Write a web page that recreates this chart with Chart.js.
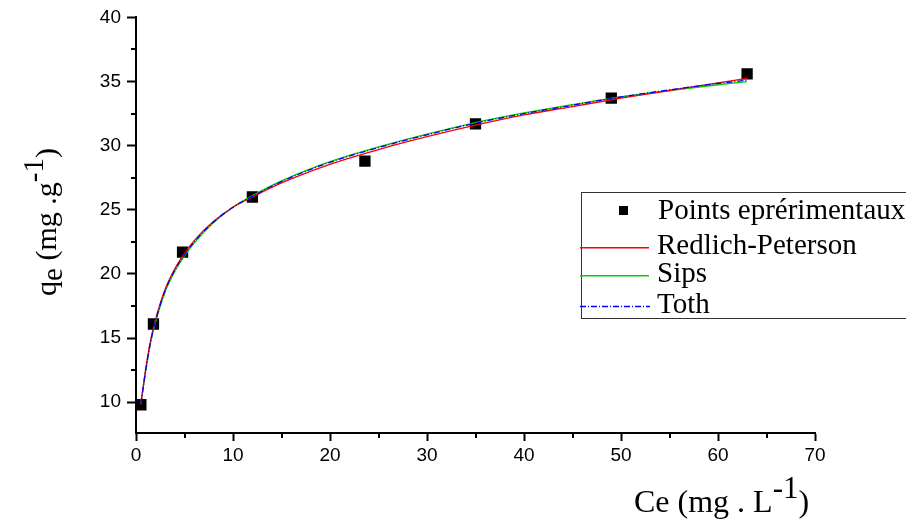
<!DOCTYPE html>
<html>
<head>
<meta charset="utf-8">
<script src="https://cdn.jsdelivr.net/npm/chart.js@4.4.0/dist/chart.umd.min.js"></script>
<style>
  body { margin: 0; background: #fff; }
  #wrap { width: 906px; height: 519px; }
</style>
</head>
<body>
<div id="wrap"><canvas id="myChart" width="906" height="519"></canvas></div>
<script>
// experimental points
var ceData = [0.5, 1.8, 4.8, 12.0, 23.6, 35.0, 49.0, 63.0];
var qeData = [9.8, 16.1, 21.7, 26.0, 28.8, 31.7, 33.7, 35.6];

// fitted curves
var fitCe = [0.5, 1, 1.5, 2, 3, 4, 5, 6, 8, 10, 12, 15, 20, 25, 30, 35, 40, 45, 50, 55, 60, 63];
var redlichPeterson = [9.8, 12.6, 14.8, 16.4, 18.8, 20.4, 21.6, 22.6, 24.1, 25.2, 26.0, 27.1, 28.55, 29.7, 30.7, 31.6, 32.4, 33.05, 33.7, 34.3, 34.9, 35.25];
var sips = [9.9, 12.4, 14.6, 16.2, 18.6, 20.2, 21.4, 22.4, 24.0, 25.2, 26.1, 27.25, 28.75, 29.9, 30.9, 31.8, 32.55, 33.2, 33.8, 34.3, 34.75, 35.0];
var toth = [9.9, 12.5, 14.7, 16.3, 18.7, 20.3, 21.5, 22.5, 24.05, 25.2, 26.05, 27.2, 28.7, 29.85, 30.85, 31.75, 32.5, 33.15, 33.8, 34.35, 34.85, 35.1];

var seriesNames = ['Points eprérimentaux', 'Redlich-Peterson', 'Sips', 'Toth'];
var xMinor = [5, 15, 25, 35, 45, 55, 65];
var yMinor = [12.5, 17.5, 22.5, 27.5, 32.5, 37.5];

function pairs(xs, ys) {
  return xs.map(function (x, i) { return { x: x, y: ys[i] }; });
}

var serif = '"Liberation Serif", "Times New Roman", serif';

// draws a run of text pieces, some of them raised or lowered
function drawParts(ctx, parts, x, y) {
  parts.forEach(function (p) {
    ctx.font = p.size + 'px ' + serif;
    ctx.fillText(p.t, x, y + (p.dy || 0));
    x += ctx.measureText(p.t).width;
  });
}
function partsWidth(ctx, parts) {
  var w = 0;
  parts.forEach(function (p) {
    ctx.font = p.size + 'px ' + serif;
    w += ctx.measureText(p.t).width;
  });
  return w;
}

var extras = {
  id: 'extras',
  afterDraw: function (chart) {
    var ctx = chart.ctx;
    var xs = chart.scales.x, ys = chart.scales.y;
    var area = chart.chartArea;
    ctx.save();
    ctx.strokeStyle = '#000';
    ctx.lineWidth = 2;
    // minor ticks
    xMinor.forEach(function (v) {
      var px = Math.round(xs.getPixelForValue(v));
      ctx.beginPath(); ctx.moveTo(px, area.bottom); ctx.lineTo(px, area.bottom + 5); ctx.stroke();
    });
    yMinor.forEach(function (v) {
      var py = Math.round(ys.getPixelForValue(v));
      ctx.beginPath(); ctx.moveTo(area.left - 5, py); ctx.lineTo(area.left, py); ctx.stroke();
    });

    ctx.fillStyle = '#000';
    ctx.textBaseline = 'alphabetic';
    ctx.textAlign = 'left';

    // x title
    var xt = [
      { t: 'Ce (mg . L', size: 32 },
      { t: '-1', size: 31, dy: -14 },
      { t: ')', size: 32 }
    ];
    drawParts(ctx, xt, 634, 512);

    // y title
    var yt = [
      { t: 'q', size: 30 },
      { t: 'e', size: 29, dy: 6 },
      { t: ' (mg .g', size: 30 },
      { t: '-1', size: 29, dy: -13 },
      { t: ')', size: 30 }
    ];
    ctx.save();
    ctx.translate(56, 222);
    ctx.rotate(-Math.PI / 2);
    drawParts(ctx, yt, -partsWidth(ctx, yt) / 2, 0);
    ctx.restore();

    // legend box
    ctx.lineWidth = 1;
    ctx.strokeStyle = '#333';
    ctx.strokeRect(581.5, 192.5, 400, 126);
    ctx.font = '29px ' + serif;
    ctx.textBaseline = 'middle';
    var ds = chart.data.datasets;
    // marker entry
    ctx.fillStyle = '#000';
    ctx.fillRect(619, 206, 9, 9);
    ctx.fillText(ds[0].label, 658, 211);
    var rows = [246, 274, 305];
    for (var i = 1; i < ds.length; i++) {
      var ly = rows[i - 1] + 1;
      if (ds[i].borderDash) {
        ctx.strokeStyle = ds[i].borderColor;
        ctx.lineWidth = 1.5;
        ctx.setLineDash(ds[i].borderDash);
        ctx.beginPath();
        ctx.moveTo(580, ly + 0.5);
        ctx.lineTo(650, ly + 0.5);
        ctx.stroke();
        ctx.setLineDash([]);
      } else {
        ctx.fillStyle = ds[i].borderColor;
        ctx.fillRect(580, ly, 69, 1.5);
      }
      ctx.fillStyle = '#000';
      ctx.fillText(ds[i].label, 657, rows[i - 1]);
    }
    ctx.restore();
  }
};

var ctx = document.getElementById('myChart').getContext('2d');
var chart = new Chart(ctx, {
  type: 'scatter',
  data: {
    datasets: [{
      label: seriesNames[0],
      data: pairs(ceData, qeData),
      pointStyle: 'rect',
      pointRadius: 8,
      backgroundColor: '#000',
      borderColor: '#000',
      borderWidth: 0,
      showLine: false,
      order: 10
    }, {
      label: seriesNames[1],
      data: pairs(fitCe, redlichPeterson),
      showLine: true,
      borderColor: '#ff0000',
      borderWidth: 1.3,
      pointRadius: 0,
      cubicInterpolationMode: 'monotone',
      order: 2
    }, {
      label: seriesNames[2],
      data: pairs(fitCe, sips),
      showLine: true,
      borderColor: '#00d000',
      borderWidth: 1.3,
      pointRadius: 0,
      cubicInterpolationMode: 'monotone',
      order: 3
    }, {
      label: seriesNames[3],
      data: pairs(fitCe, toth),
      showLine: true,
      borderColor: '#0000ff',
      borderWidth: 1.3,
      borderDash: [6, 2, 1, 2],
      pointRadius: 0,
      cubicInterpolationMode: 'monotone',
      order: 1
    }]
  },
  options: {
    responsive: false,
    animation: false,
    devicePixelRatio: 1,
    layout: { padding: { left: 0, top: 17, right: 91, bottom: 0 } },
    plugins: { legend: { display: false }, tooltip: { enabled: false } },
    scales: {
      x: {
        type: 'linear',
        min: 0,
        max: 70,
        afterFit: function (s) { s.height = 86; },
        border: { display: true, color: '#000', width: 2 },
        grid: { drawOnChartArea: false, drawTicks: true, tickLength: 8, tickColor: '#000', tickWidth: 2 },
        ticks: { stepSize: 10, color: '#000', padding: 3, font: { family: '"Liberation Sans", Arial, sans-serif', size: 19 } }
      },
      y: {
        type: 'linear',
        min: 7.6,
        max: 40,
        afterFit: function (s) { s.width = 136; },
        border: { display: true, color: '#000', width: 2 },
        grid: { drawOnChartArea: false, drawTicks: true, tickLength: 9, tickColor: '#000', tickWidth: 2 },
        ticks: { stepSize: 5, includeBounds: false, color: '#000', padding: 6, font: { family: '"Liberation Sans", Arial, sans-serif', size: 19 } }
      }
    }
  },
  plugins: [extras]
});
</script>
</body>
</html>
